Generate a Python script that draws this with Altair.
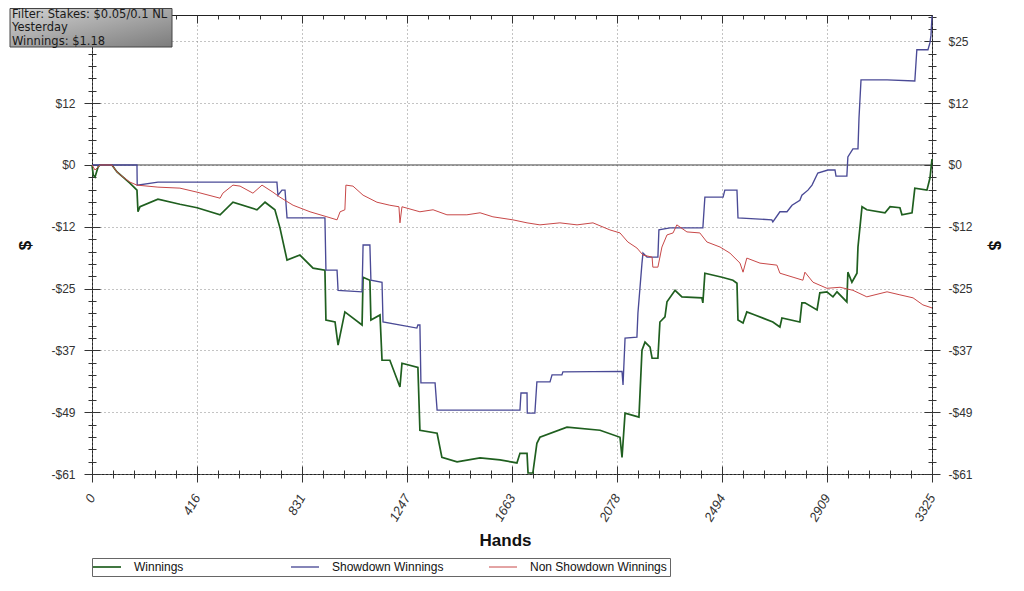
import altair as alt
import pandas as pd

# ---- data ----
win_hands = [0,5,12,24,32,79,99,123,150,178,182,190,261,348,416,507,558,653,685,724,744,772,823,875,922,926,962,974,1001,1069,1073,1100,1104,1140,1148,1179,1219,1227,1290,1298,1366,1385,1445,1536,1615,1682,1694,1722,1726,1745,1761,1773,1880,2011,2090,2098,2110,2165,2177,2189,2209,2217,2240,2248,2268,2276,2308,2335,2414,2418,2426,2494,2537,2553,2557,2577,2592,2624,2695,2723,2731,2802,2810,2822,2870,2881,2909,2933,2949,2988,2992,3008,3028,3032,3048,3067,3139,3159,3198,3206,3246,3257,3305,3317,3325]
win_vals = [0,-2.0,-2.4,-0.4,0,0,-1.4,-2.4,-3.6,-5.0,-9.3,-8.3,-6.8,-7.8,-8.5,-9.9,-7.4,-8.9,-7.4,-8.9,-12.5,-18.9,-17.9,-20.5,-20.9,-30.8,-31.2,-35.8,-29.2,-31.8,-22.3,-22.9,-30.8,-29.8,-38.8,-38.8,-44.1,-39.4,-40.2,-52.7,-53.3,-58.1,-59.0,-58.2,-58.6,-59.2,-57.3,-57.3,-61.2,-61.2,-55.3,-54.1,-52.1,-52.7,-54.1,-58.1,-49.3,-50.1,-36.8,-35.2,-36.2,-38.4,-38.4,-31.2,-30.2,-27.2,-24.9,-26.2,-26.4,-27.4,-21.5,-22.3,-22.9,-23.5,-30.8,-31.4,-29.2,-29.8,-31.2,-32.2,-30.4,-31.2,-27.4,-27.4,-28.8,-25.4,-25.2,-26.2,-25.2,-27.2,-21.3,-23.3,-21.5,-16.3,-8.3,-8.9,-9.5,-8.3,-8.5,-9.9,-9.5,-4.6,-5.0,-2.6,1.18]

sd_hands = [0,178,179,261,732,736,752,764,772,922,926,970,974,1069,1073,1100,1104,1148,1152,1286,1290,1298,1302,1358,1366,1694,1698,1722,1723,1753,1761,1813,1821,1860,1864,2098,2102,2110,2157,2161,2177,2181,2197,2240,2244,2288,2418,2426,2498,2505,2553,2557,2691,2695,2723,2751,2771,2802,2810,2834,2850,2873,2913,2941,2945,2988,2992,3012,3032,3036,3044,3147,3257,3265,3309,3317,3321,3325]
sd_vals = [0,0,-4.0,-3.4,-3.4,-6.0,-5.0,-5.0,-10.5,-10.5,-20.9,-20.9,-24.9,-25.2,-15.9,-15.9,-22.9,-23.3,-31.2,-32.4,-31.8,-31.8,-43.3,-43.3,-48.7,-48.7,-45.3,-45.3,-49.3,-49.3,-43.1,-43.1,-41.7,-41.7,-41.1,-41.0,-43.7,-34.4,-34.2,-29.4,-19.5,-17.5,-18.3,-18.3,-12.9,-12.5,-12.5,-6.4,-6.4,-5.0,-5.0,-10.5,-10.9,-11.3,-9.3,-9.3,-8.0,-7.0,-6.0,-5.0,-4.0,-1.6,-1.0,-1.0,-2.2,-2.2,1.6,3.2,3.2,9.3,16.9,16.9,16.7,22.9,22.9,24.3,25.8,29.6]

ns_hands = [0,12,32,79,99,123,150,178,261,348,416,507,518,558,586,637,673,716,744,796,863,930,970,982,1001,1005,1033,1073,1128,1179,1215,1219,1227,1298,1350,1405,1484,1536,1587,1666,1722,1773,1852,1920,1983,2050,2090,2121,2157,2181,2217,2220,2240,2256,2276,2300,2315,2355,2406,2434,2486,2525,2565,2577,2592,2644,2711,2723,2775,2814,2822,2854,2909,2961,3012,3067,3147,3198,3250,3289,3325]
ns_vals = [0,-1.0,0,0,-1.4,-2.4,-3.4,-4.0,-4.4,-4.6,-5.4,-6.6,-5.6,-4.0,-4.2,-5.6,-4.0,-5.4,-6.4,-8.0,-9.3,-10.3,-10.9,-9.3,-8.9,-4.0,-4.2,-6.0,-7.4,-8.0,-8.3,-11.5,-8.3,-9.3,-8.9,-9.9,-9.9,-9.5,-10.3,-10.9,-11.5,-11.9,-11.5,-11.9,-11.5,-12.9,-13.5,-15.3,-16.5,-17.9,-18.3,-20.3,-20.3,-16.3,-13.9,-13.5,-11.9,-13.3,-13.5,-15.3,-16.3,-17.5,-19.5,-21.3,-18.5,-19.5,-19.9,-21.5,-22.3,-22.9,-21.3,-23.3,-24.5,-24.3,-24.9,-26.2,-25.2,-25.8,-26.4,-27.8,-28.4]

series_names = ["Winnings", "Showdown Winnings", "Non Showdown Winnings"]
series_colors = ["#1f5f1f", "#4a4a96", "#c84848"]
series_widths = [1.7, 1.0, 1.0]

x_ticks = [0, 415.625, 831.25, 1246.875, 1662.5, 2078.125, 2493.75, 2909.375, 3325]
y_ticks = [-61.4, -49.12, -36.84, -24.56, -12.28, 0, 12.28, 24.56]
x_domain = [0, 3325]
y_domain = [-61.4, 29.8]
zero_line = [0]
filter_lines = ["Filter: Stakes: $0.05/0.1 NL", "Yesterday", "Winnings: $1.18"]

x_minor = [83.125 * i for i in range(41) if i % 5 != 0]
y_minor = [round(-61.4 + 2.456 * i, 3) for i in range(38) if i % 5 != 0]

rows = []
for name, hs, vs in [(series_names[0], win_hands, win_vals),
                     (series_names[1], sd_hands, sd_vals),
                     (series_names[2], ns_hands, ns_vals)]:
    for i, (h, v) in enumerate(zip(hs, vs)):
        rows.append({"Hands": h, "Value": v, "Series": name, "idx": i})
df = pd.DataFrame(rows)

FONT = "Liberation Sans"
xs = alt.Scale(domain=x_domain, nice=False, zero=False)
ys = alt.Scale(domain=y_domain, nice=False, zero=False)
ylab = "datum.value < 0 ? '-$' + format(-datum.value, '.0f') : '$' + format(datum.value, '.0f')"

common = dict(labelFont=FONT, labelFontSize=12, labelColor="#333", tickColor="#333",
              domain=False, titleFont=FONT)

# grid layer
grid = alt.Chart(df).mark_point(opacity=0).encode(
    x=alt.X("Hands:Q", scale=xs, axis=alt.Axis(orient="top", values=x_ticks, ticks=False, labels=False,
                                               domain=False, grid=True, gridDash=[1, 3], gridColor="#888",
                                               title=None)),
    y=alt.Y("Value:Q", scale=ys, axis=alt.Axis(orient="left", values=y_ticks, ticks=False, labels=False,
                                               domain=False, grid=True, gridDash=[1, 3], gridColor="#888",
                                               title=None)),
)

zero = alt.Chart(pd.DataFrame({"z": zero_line})).mark_rule(color="#444", strokeWidth=1).encode(
    y=alt.Y("z:Q", scale=ys, axis=None)
)

xcommon = dict(common)
xcommon["labelFontSize"] = 13

lines = alt.Chart(df).mark_line().encode(
    x=alt.X("Hands:Q", scale=xs, axis=alt.Axis(
        orient="bottom", values=x_ticks, offset=-8, tickSize=16, grid=False,
        labelExpr="format(datum.value, '.0f')", labelAngle=-60, labelPadding=13,
        labelFontStyle="italic", title="Hands", titleFontSize=17, titleFontWeight="bold",
        titleColor="#111", titleX=413, titleY=74, titleBaseline="middle", titleAlign="center", **xcommon)),
    y=alt.Y("Value:Q", scale=ys, axis=alt.Axis(
        orient="left", values=y_ticks, offset=-8, tickSize=16, grid=False, labelExpr=ylab,
        labelPadding=9, title="$", titleFontSize=17, titleFontWeight="bold", titleColor="#111",
        titleX=-75, titleY=230, titleAngle=-90, titleBaseline="middle", titleAlign="center", **common)),
    color=alt.Color("Series:N", sort=series_names,
                    scale=alt.Scale(domain=series_names, range=series_colors),
                    legend=alt.Legend(orient="none", legendX=0, legendY=543, direction="horizontal",
                                      columns=3, title=None, symbolType="M-4,0H10", symbolSize=16,
                                      symbolStrokeWidth=1.5, labelFont=FONT, labelFontSize=12,
                                      labelColor="#111", fillColor="white", strokeColor="#666",
                                      padding=3, columnPadding=17, labelOffset=27, gridAlign="all",
                                      labelLimit=300)),
    strokeWidth=alt.StrokeWidth("Series:N", scale=alt.Scale(domain=series_names, range=series_widths),
                                legend=None),
    order="idx:Q",
)

minor_lb = alt.Chart(df).mark_point(opacity=0).encode(
    x=alt.X("Hands:Q", scale=xs, axis=alt.Axis(orient="bottom", values=x_minor, offset=-4, tickSize=8,
                                               labels=False, grid=False, title=None, **common)),
    y=alt.Y("Value:Q", scale=ys, axis=alt.Axis(orient="left", values=y_minor, offset=-4, tickSize=8,
                                               labels=False, grid=False, title=None, **common)),
)

major_tr = alt.Chart(df).mark_point(opacity=0).encode(
    x=alt.X("Hands:Q", scale=xs, axis=alt.Axis(orient="top", values=x_ticks, offset=-8, tickSize=8,
                                               labels=False, grid=False, title=None, **common)),
    y=alt.Y("Value:Q", scale=ys, axis=alt.Axis(
        orient="right", values=y_ticks, offset=-8, tickSize=16, grid=False, labelExpr=ylab,
        labelPadding=8, title="$", titleFontSize=17, titleFontWeight="bold", titleColor="#111",
        titleX=69, titleY=230, titleAngle=90, titleBaseline="middle", titleAlign="center", **common)),
)

minor_tr = alt.Chart(df).mark_point(opacity=0).encode(
    x=alt.X("Hands:Q", scale=xs, axis=alt.Axis(orient="top", values=x_minor, offset=-4, tickSize=4,
                                               labels=False, grid=False, title=None, **common)),
    y=alt.Y("Value:Q", scale=ys, axis=alt.Axis(orient="right", values=y_minor, offset=-4, tickSize=8,
                                               labels=False, grid=False, title=None, **common)),
)

box = alt.Chart(pd.DataFrame({"t": [filter_lines[0]]})).mark_rect(
    color=alt.Gradient(gradient="linear", x1=0, y1=0, x2=1, y2=1,
                       stops=[alt.GradientStop(offset=0, color="#d2d2d2"),
                              alt.GradientStop(offset=1, color="#7c7c7c")]),
    stroke="#444", strokeWidth=1,
).encode(x=alt.value(-82), x2=alt.value(80), y=alt.value(-6.5), y2=alt.value(32))

box_text = alt.Chart(pd.DataFrame({"t": [filter_lines[0]]})).mark_text(
    text=filter_lines, align="left", baseline="middle", font="DejaVu Sans", fontSize=11.5,
    lineHeight=13.5, color="#1a1a1a",
).encode(x=alt.value(-80), y=alt.value(-0.5))

chart = alt.layer(grid, zero, lines, minor_lb, major_tr, minor_tr, box, box_text).resolve_axis(
    x="independent", y="independent"
).properties(
    width=840, height=459,
    autosize=alt.AutoSizeParams(type="none"),
    padding={"left": 84, "top": 7, "right": 84, "bottom": 109},
    background="white",
).configure_view(stroke="#222", strokeWidth=1)

chart.save("out.html", embed_options={"renderer": "svg", "actions": False})
